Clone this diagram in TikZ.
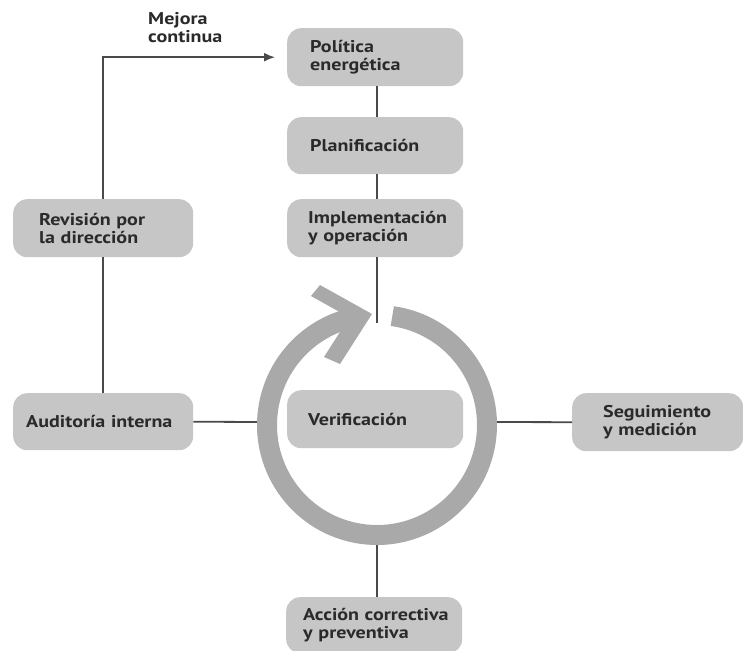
\documentclass[tikz,border=0pt]{standalone}
\usepackage{fontspec}
\setmainfont{PT Sans}[FakeStretch=1.18]
\usetikzlibrary{arrows.meta}
\definecolor{boxgray}{HTML}{C6C6C6}
\definecolor{ringgray}{HTML}{A9A9A9}
\definecolor{linegray}{HTML}{4A4A4A}
\definecolor{textc}{HTML}{2A2A2A}
\begin{document}
\begin{tikzpicture}[x=1pt,y=-1pt,
  lbl/.style={font=\fontsize{17}{18}\selectfont\bfseries, text=textc},
  box/.style 2 args={lbl, fill=boxgray, rounded corners=14pt, anchor=north west,
    align=left, inner ysep=0pt, text width=#1, inner xsep=#2},
  conn/.style={draw=linegray, line width=1.8pt}]
\useasboundingbox (0,0) rectangle (743,650);
% ring
\coordinate (rc) at (377,425);
\coordinate (rtop) at (377,323);
\coordinate (rleft) at (257,422);
\coordinate (rright) at (497,422);
\coordinate (rbot) at (377,545);
% boxes
\node[box={130pt}{23pt}, minimum height=58pt] (pol) at (287,28) {Política\\energética};
\node[box={130pt}{23pt}, minimum height=57pt] (plan) at (287,117) {Planificación};
\node[box={134pt}{21pt}, minimum height=58pt] (impl) at (287,199) {\mbox{Implementación}\\y operación};
\node[box={128pt}{26pt}, minimum height=58pt] (rev) at (13,199) {Revisión por\\la dirección};
\node[box={154pt}{13pt}, minimum height=57pt] (aud) at (13,393) {\mbox{Auditoría interna}};
\node[box={134pt}{21pt}, minimum height=58pt] (ver) at (287,390) {Verificación};
\node[box={109pt}{31pt}, minimum height=58pt] (seg) at (572,393) {\mbox{Seguimiento}\\y medición};
\node[box={142pt}{17pt}, minimum height=56pt] (acc) at (286,597) {\mbox{Acción correctiva}\\y preventiva};
\node[lbl, anchor=north west, align=left, inner sep=0pt] (mej) at (148,12) {Mejora\\continua};
% connectors
\draw[conn] (pol.south -| rtop) -- (plan.north -| rtop);
\draw[conn] (plan.south -| rtop) -- (impl.north -| rtop);
\draw[conn] (impl.south -| rtop) -- (rtop);
\draw[conn] (rev.south) -- (aud.north);
\draw[conn, -{Latex[length=11pt,width=9pt]}] (rev.north) |- ([xshift=-12pt]pol.west);
\draw[conn] (aud.east) -- (rleft);
\draw[conn] (rright) -- (seg.west);
\draw[conn] (rbot) -- (acc.north -| rbot);
% cycle arrow
\draw[ringgray, line width=20pt] (rc) ++(-82:110) arc[start angle=-82, end angle=260, radius=110];
\fill[ringgray] (320,285) -- (372,314) -- (340,364) -- (324,357) -- (349.3,317.4) -- (311,296) -- cycle;
\end{tikzpicture}
\end{document}
